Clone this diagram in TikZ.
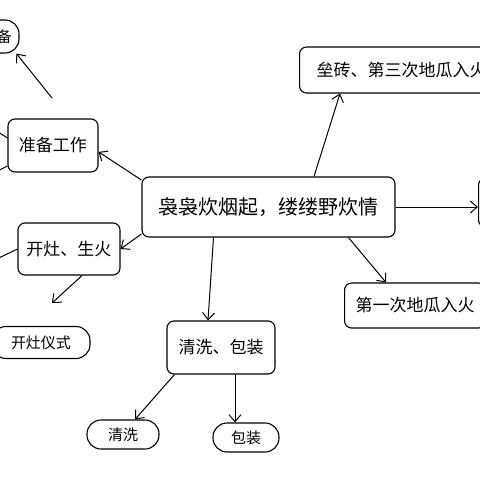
\documentclass[tikz,border=0pt]{standalone}
\usepackage{fontspec}
\newfontfamily\cjk{Noto Sans CJK SC}
\usepackage{tikz}
\usetikzlibrary{arrows.meta}

\begin{document}
\begin{tikzpicture}[x=1pt, y=-1pt,
    box/.style={rectangle, draw, rounded corners=7pt, line width=1.1pt, inner sep=0pt, font=\cjk\fontsize{17pt}{20pt}\selectfont},
    pill/.style={rectangle, draw, rounded corners=14pt, line width=1.1pt, inner sep=0pt, font=\cjk\fontsize{15pt}{18pt}\selectfont},
    link/.style={-{Straight Barb[length=7pt,width=12pt]}, line width=1pt}]
    \useasboundingbox (0,0) rectangle (480,480);
    \clip (0,0) rectangle (480,480);
    \fill[white] (0,0) rectangle (480,480);

    \node[box, minimum width=253pt, minimum height=60pt, font=\cjk\fontsize{20pt}{24pt}\selectfont] (main) at (268.5,207) {袅袅炊烟起，缕缕野炊情};
    \node[box, minimum width=90pt, minimum height=53pt] (prep) at (53,145.5) {准备工作};
    \node[box, minimum width=102pt, minimum height=52pt] (fire) at (69,249) {开灶、生火};
    \node[box, minimum width=108pt, minimum height=53pt] (wash) at (221,347.5) {清洗、包装};
    \node[box, anchor=west, minimum height=46pt, inner xsep=17pt] (brick) at (299,70) {垒砖、第三次地瓜入火};
    \node[box, anchor=west, minimum height=45pt, inner xsep=11pt] (first) at (344,305.5) {第一次地瓜入火};
    \node[box, anchor=west, minimum width=60pt, minimum height=49pt] (next) at (478,202.5) {};

    \node[pill, minimum height=33pt, text width=40pt, inner xsep=7pt, align=right] (gear) at (-8,36.5) {备};
    \node[pill, minimum width=98pt, minimum height=32pt] (rite) at (41,342.5) {开灶仪式};
    \node[pill, minimum width=72pt, minimum height=29pt] (clean) at (123,434.5) {清洗};
    \node[pill, minimum width=66pt, minimum height=29pt] (pack) at (246,437.5) {包装};

    \coordinate (g1) at (52,98);
    \coordinate (f1) at (52,303);
    \coordinate (l1) at (-16,123);
    \coordinate (l2) at (-16,178);
    \coordinate (l3) at (-20,267);

    \draw[link] (main.168) -- (prep.-8);
    \draw[link] (main.192) -- (fire.east);
    \draw[link] ([xshift=-55pt]main.south) -- ([xshift=-13pt]wash.north);
    \draw[link] ([xshift=80pt]main.south) -- ([xshift=42pt]first.north west);
    \draw[link] ([xshift=45.5pt]main.north) -- ([xshift=41pt]brick.south west);
    \draw[link] (main.east) -- (main.east -| next.west);
    \draw[link] ([xshift=8pt]wash.south west) -- ([xshift=12pt]clean.north);
    \draw[link] ([xshift=14pt]wash.south) -- ([xshift=14pt]wash.south |- pack.north);
    \draw[link] ([xshift=13pt]fire.south) -- (f1);
    \draw[link] (g1) -- (gear.-35);
    \draw[line width=1pt] ([yshift=7.5pt]prep.west) -- (l1);
    \draw[line width=1pt] ([yshift=-20.5pt]prep.west) -- (l2);
    \draw[line width=1pt] (fire.west) -- (l3);
\end{tikzpicture}
\end{document}
